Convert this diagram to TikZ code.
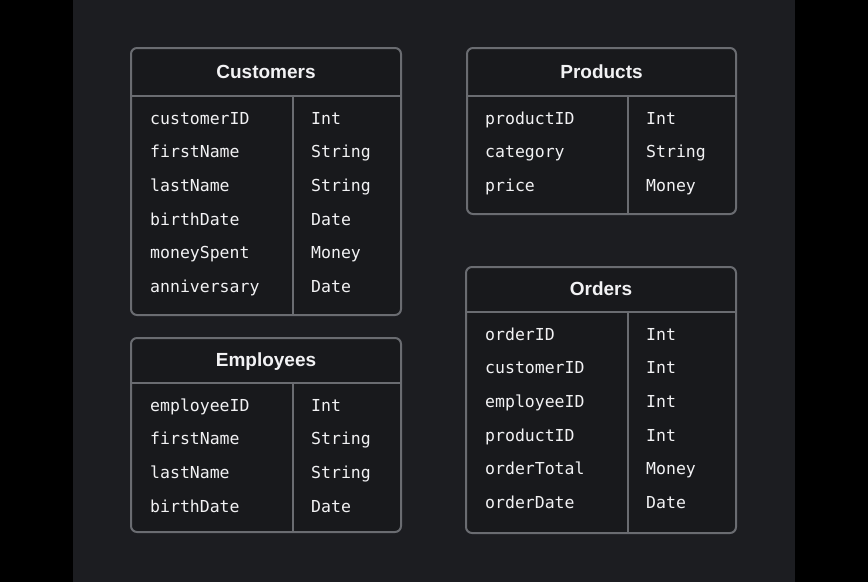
\documentclass[tikz,border=0pt]{standalone}
\usepackage{fontspec}
\setmainfont{Liberation Sans}
\newfontfamily\codefont{DejaVu Sans Mono}
\definecolor{pagebg}{HTML}{1C1D21}
\definecolor{tablebg}{HTML}{18191C}
\definecolor{rule}{HTML}{6A6C71}
\definecolor{ink}{HTML}{F2F2F4}
\tikzset{
  tableframe/.style={draw=rule, line width=2pt, fill=tablebg, rounded corners=6pt},
  tablerule/.style={draw=rule, line width=2pt},
  titletext/.style={anchor=base, inner sep=0pt, text=ink, font=\fontsize{19}{22}\selectfont\bfseries},
  fieldtext/.style={anchor=base west, inner sep=0pt, text=ink, font=\fontsize{16.5}{19}\selectfont\codefont},
}
% one ER table: name, left, top, right, bottom, header line y, divider x, title
\newcommand\ertable[8]{%
  \draw[tableframe] (#2,#3) rectangle (#4,#5);
  \draw[tablerule] (#2,#6) -- (#4,#6);
  \draw[tablerule] (#7,#6) -- (#7,#5);
  \node[titletext] (#1-title) at ({(#2+#4)/2},{(#3+#6)/2+6}) {#8};
}
% field rows: table name, left text x, type text x, first baseline, list of field/type
\newcommand\errows[5]{%
  \foreach \f/\t [count=\i] in {#5} {
    \node[fieldtext] (#1-f\i) at (#2,{#4+(\i-1)*33.7}) {\f};
    \node[fieldtext] (#1-t\i) at (#3,{#4+(\i-1)*33.7}) {\t};
  }
}
\begin{document}
\begin{tikzpicture}[x=1pt,y=-1pt]
  \fill[black] (0,0) rectangle (868,582);
  \fill[pagebg] (73,0) rectangle (795,582);
  \useasboundingbox (0,0) rectangle (868,582);

  \ertable{cust}{131}{48}{401}{315}{96}{293}{Customers}
  \errows{cust}{150}{311}{124}{customerID/Int, firstName/String, lastName/String, birthDate/Date, moneySpent/Money, anniversary/Date}

  \ertable{prod}{467}{48}{736}{214}{96}{628}{Products}
  \errows{prod}{485}{646}{124}{productID/Int, category/String, price/Money}

  \ertable{emp}{131}{338}{401}{532}{383}{293}{Employees}
  \errows{emp}{150}{311}{411}{employeeID/Int, firstName/String, lastName/String, birthDate/Date}

  \ertable{ord}{466}{267}{736}{533}{312}{628}{Orders}
  \errows{ord}{485}{646}{340}{orderID/Int, customerID/Int, employeeID/Int, productID/Int, orderTotal/Money, orderDate/Date}
\end{tikzpicture}
\end{document}
